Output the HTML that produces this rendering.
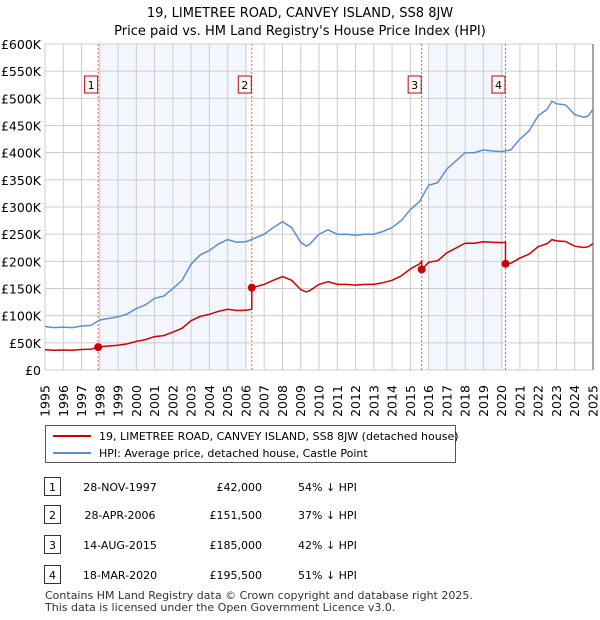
<!DOCTYPE html>
<html><head><meta charset="utf-8"><style>
body{margin:0;background:#fff;font-family:"Liberation Sans","DejaVu Sans",sans-serif;}
#wrap{position:relative;width:600px;height:620px;overflow:hidden}
text{font-family:"DejaVu Sans","Liberation Sans",sans-serif}
</style></head><body><div id="wrap">
<svg id="svg" width="600" height="620" viewBox="0 0 600 620"></svg>
</div>
<script>
const years=[1995,1995.5,1996,1996.5,1997,1997.5,1998,1998.5,1999,1999.5,2000,2000.5,2001,2001.5,2002,2002.5,2003,2003.5,2004,2004.5,2005,2005.5,2006,2006.5,2007,2007.5,2008,2008.5,2009,2009.3,2009.5,2010,2010.5,2011,2011.5,2012,2012.5,2013,2013.5,2014,2014.5,2015,2015.5,2016,2016.5,2017,2017.5,2018,2018.5,2019,2019.5,2020,2020.5,2021,2021.5,2022,2022.5,2022.75,2023,2023.5,2024,2024.5,2024.75,2025];
const hpi=[80,78,79,78,81,82,92,95,98,103,113,120,132,136,150,165,195,212,220,232,240,235,236,243,250,262,273,262,235,228,232,250,258,250,250,248,250,250,255,262,275,295,310,340,345,370,385,400,400,405,403,402,405,425,440,468,480,495,490,488,470,465,468,480];
const saleDates=[1997.91,2006.32,2015.62,2020.21];
const salePrices=[42,151.5,185,195.5];
const saleLabels=["1","2","3","4"];
const saleDateText=["28-NOV-1997","28-APR-2006","14-AUG-2015","18-MAR-2020"];
const salePriceText=["£42,000","£151,500","£185,000","£195,500"];
const salePctText=["54% ↓ HPI","37% ↓ HPI","42% ↓ HPI","51% ↓ HPI"];
const yTicks=[0,50,100,150,200,250,300,350,400,450,500,550,600];
const yTickLabels=["£0","£50K","£100K","£150K","£200K","£250K","£300K","£350K","£400K","£450K","£500K","£550K","£600K"];
const xTicks=[1995,1996,1997,1998,1999,2000,2001,2002,2003,2004,2005,2006,2007,2008,2009,2010,2011,2012,2013,2014,2015,2016,2017,2018,2019,2020,2021,2022,2023,2024,2025];

const X0=45,X1=593,Y0=370,Y1=44;
const xs=v=>X0+(v-1995)/30*(X1-X0);
const ys=v=>Y0-v/600*(Y0-Y1);
const svg=document.getElementById('svg');
const NS='http://www.w3.org/2000/svg';
function mk(t,a,p){const e=document.createElementNS(NS,t);for(const k in a)e.setAttribute(k,a[k]);(p||svg).appendChild(e);return e;}
function interp(d){for(let i=0;i<years.length-1;i++){if(d>=years[i]&&d<=years[i+1]){const f=(d-years[i])/(years[i+1]-years[i]);return hpi[i]+f*(hpi[i+1]-hpi[i]);}}return hpi[hpi.length-1];}

let e;
e=mk('text',{x:300,y:17,'text-anchor':'middle','font-size':13,fill:'#000'});e.textContent='19, LIMETREE ROAD, CANVEY ISLAND, SS8 8JW';

e=mk('text',{x:300,y:35,'text-anchor':'middle','font-size':13,fill:'#000'});e.textContent="Price paid vs. HM Land Registry's House Price Index (HPI)";


// shading
[[0,1],[2,3]].forEach(([a,b],i)=>{const x1=xs(i==0?1998:2016),x2=xs(i==0?2006:2020.1);
e=mk('rect',{x:x1,y:Y1,width:x2-x1,height:Y0-Y1,fill:'#eef3fc',opacity:0.7});
});

// grid
yTicks.forEach((v,i)=>{e=mk('line',{x1:X0,x2:X1,y1:ys(v),y2:ys(v),stroke:'#cccccc','stroke-width':1});

e=mk('text',{x:X0-4,y:ys(v)+5,'text-anchor':'end','font-size':12.5,fill:'#000'});e.textContent=yTickLabels[i];
});
xTicks.forEach(v=>{e=mk('line',{x1:xs(v),x2:xs(v),y1:Y1,y2:Y0,stroke:'#cccccc','stroke-width':1});

e=mk('text',{transform:`translate(${xs(v)+4.5},${Y0+31}) rotate(-90)`,'text-anchor':'middle','font-size':12.5,fill:'#000'});e.textContent=v;
});
e=mk('line',{x1:X1,x2:X1,y1:Y1,y2:Y0,stroke:'#888','stroke-width':1.5});


// sale vlines & labels
saleDates.forEach((d,i)=>{e=mk('line',{x1:xs(d),x2:xs(d),y1:Y1,y2:Y0,stroke:'#e06060','stroke-width':1,'stroke-dasharray':'2,2'});

const g=mk('g',{});
mk('rect',{x:xs(d)-13.5,y:76,width:13,height:17,fill:'#fff',stroke:'#c00000','stroke-width':1},g);
const t=mk('text',{x:xs(d)-7,y:89,'text-anchor':'middle','font-size':11,fill:'#000'},g);t.textContent=saleLabels[i];});

// hpi line
let dH='';years.forEach((y,i)=>{dH+=(i?'L':'M')+xs(y).toFixed(1)+','+ys(hpi[i]).toFixed(1);});
e=mk('path',{d:dH,fill:'none',stroke:'#5b8fd4','stroke-width':1.5});


// price line: indexed by HPI from each sale
const ratios=saleDates.map((d,i)=>salePrices[i]/interp(d));
let pts=[];
function ratioAt(t){let r=ratios[0];saleDates.forEach((d,i)=>{if(t>=d)r=ratios[i];});return r;}
years.forEach((y,i)=>{saleDates.forEach((d,k)=>{const prev=i>0?years[i-1]:-1;if(d>prev&&d<=y){const h=interp(d);if(k>0)pts.push([d,h*ratios[k-1]]);pts.push([d,h*ratios[k]]);}});pts.push([y,hpi[i]*ratioAt(y)]);});
let dP='';pts.forEach((p,i)=>{dP+=(i?'L':'M')+xs(p[0]).toFixed(1)+','+ys(p[1]).toFixed(1);});
e=mk('path',{d:dP,fill:'none',stroke:'#cc0000','stroke-width':1.5});

saleDates.forEach((d,i)=>{e=mk('circle',{cx:xs(d),cy:ys(salePrices[i]),r:4,fill:'#cc0000'});
});

// legend
const lg=mk('g',{});
mk('rect',{x:45.5,y:425.5,width:410,height:37,fill:'#fff',stroke:'#555','stroke-width':1},lg);
mk('line',{x1:53,x2:91,y1:436,y2:436,stroke:'#cc0000','stroke-width':2},lg);
e=mk('text',{x:99,y:440,'font-size':11,fill:'#000'},lg);e.textContent='19, LIMETREE ROAD, CANVEY ISLAND, SS8 8JW (detached house)';

mk('line',{x1:53,x2:91,y1:453,y2:453,stroke:'#5b8fd4','stroke-width':2},lg);
e=mk('text',{x:99,y:457,'font-size':11,fill:'#000'},lg);e.textContent='HPI: Average price, detached house, Castle Point';


// table
const rowY=[487,515,545,575];
saleLabels.forEach((l,i)=>{const g=mk('g',{});
const y=rowY[i];
mk('rect',{x:44.5,y:y-9.5,width:16,height:18,fill:'#fff',stroke:'#333','stroke-width':1},g);
let t=mk('text',{x:52.5,y:y+4,'text-anchor':'middle','font-size':11,fill:'#000'},g);t.textContent=l;
t=mk('text',{x:120,y:y+4,'text-anchor':'middle','font-size':11,fill:'#000'},g);t.textContent=saleDateText[i];
t=mk('text',{x:262,y:y+4,'text-anchor':'end','font-size':11,fill:'#000'},g);t.textContent=salePriceText[i];
t=mk('text',{x:298,y:y+4,'font-size':11,fill:'#000'},g);t.textContent=salePctText[i];});

e=mk('text',{x:45,y:599,'font-size':11,fill:'#333'});e.textContent='Contains HM Land Registry data © Crown copyright and database right 2025.';

e=mk('text',{x:45,y:611,'font-size':11,fill:'#333'});e.textContent='This data is licensed under the Open Government Licence v3.0.';

</script></body></html>
